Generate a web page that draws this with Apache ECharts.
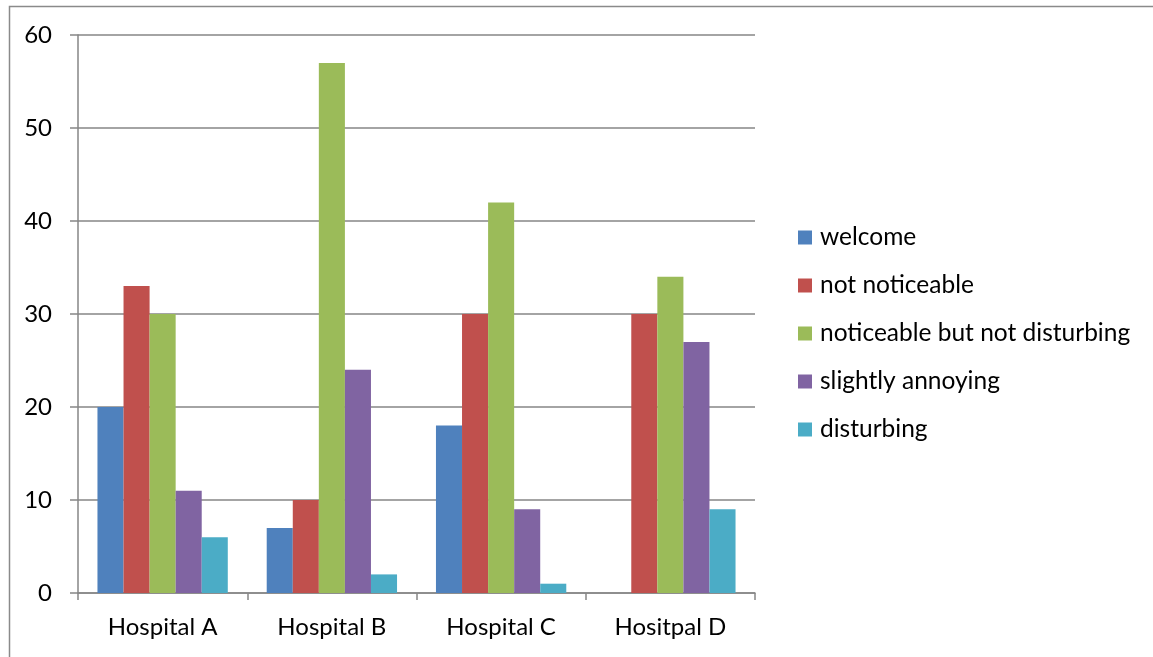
<!DOCTYPE html>
<html>
<head>
<meta charset="utf-8">
<script src="https://cdn.jsdelivr.net/npm/echarts@6/dist/echarts.min.js"></script>
<style>
  html, body { margin: 0; padding: 0; background: #fff; }
  #chart { width: 1153px; height: 657px; }
</style>
</head>
<body>
<div id="chart"></div>
<script>
// Survey responses per hospital
const hospitals = ['Hospital A', 'Hospital B', 'Hospital C', 'Hositpal D'];
const responseNames = ['welcome', 'not noticeable', 'noticeable but not disturbing', 'slightly annoying', 'disturbing'];
const welcome = [20, 7, 18, 0];
const notNoticeable = [33, 10, 30, 30];
const noticeableNotDisturbing = [30, 57, 42, 34];
const slightlyAnnoying = [11, 24, 9, 27];
const disturbing = [6, 2, 1, 9];
const yTicks = [0, 10, 20, 30, 40, 50, 60];

const colors = ['#4F81BD', '#C0504D', '#9BBB59', '#8064A2', '#4BACC6'];
const seriesValues = [welcome, notNoticeable, noticeableNotDisturbing, slightlyAnnoying, disturbing];

const fontFamily = 'Lato, "Open Sans", sans-serif';

const chart = echarts.init(document.getElementById('chart'), null, { renderer: 'canvas' });
chart.setOption({
  animation: false,
  backgroundColor: '#fff',
  color: colors,
  graphic: [{
    type: 'rect',
    shape: { x: 9.5, y: 6.5, width: 3000, height: 3000 },
    style: { fill: 'none', stroke: '#8a8a8a', lineWidth: 1.5 },
    silent: true
  }],
  grid: { left: 78, right: 398, top: 35, bottom: 64, containLabel: false },
  legend: {
    orient: 'vertical',
    left: 793,
    top: 220,
    icon: 'rect',
    itemWidth: 14,
    itemHeight: 14,
    itemGap: 23,
    textStyle: { fontFamily, fontSize: 24.5, color: '#000', lineHeight: 24, padding: [0, 0, 0, 3] },
    data: responseNames
  },
  xAxis: {
    type: 'category',
    data: hospitals,
    axisLine: { lineStyle: { color: '#868686', width: 1.5 } },
    axisTick: { show: true, length: 7, alignWithLabel: false, lineStyle: { color: '#868686', width: 1.5 } },
    axisLabel: { fontFamily, fontSize: 24, color: '#000', margin: 22 },
    splitLine: { show: false }
  },
  yAxis: {
    type: 'value',
    min: yTicks[0],
    max: yTicks[yTicks.length - 1],
    interval: 10,
    axisLine: { show: true, lineStyle: { color: '#868686', width: 1.5 } },
    axisTick: { show: true, length: 8, lineStyle: { color: '#868686', width: 1.5 } },
    axisLabel: { fontFamily, fontSize: 24, color: '#000', margin: 26 },
    splitLine: { show: true, lineStyle: { color: '#868686', width: 1.5 } }
  },
  series: responseNames.map((name, i) => ({
    name,
    type: 'bar',
    data: seriesValues[i],
    barGap: '0%',
    barCategoryGap: '23%',
    itemStyle: { color: colors[i] }
  }))
});
</script>
</body>
</html>
